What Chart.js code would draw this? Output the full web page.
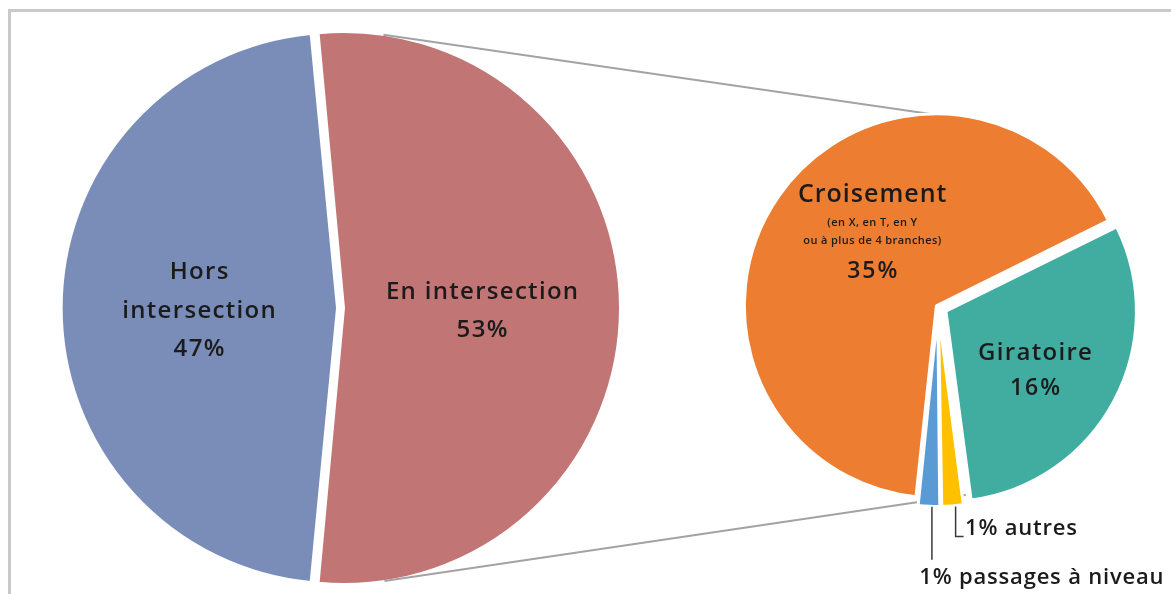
<!DOCTYPE html>
<html>
<head>
<meta charset="utf-8">
<script src="https://cdn.jsdelivr.net/npm/chart.js@4/dist/chart.umd.min.js"></script>
<style>
  html, body { margin: 0; padding: 0; background: #fff; }
  #wrap { position: relative; width: 1171px; height: 594px; overflow: hidden; }
  #frame { position: absolute; left: 8px; top: 9px; width: 1300px; height: 700px;
           border-left: 3px solid #c9c9c9; border-top: 3px solid #c9c9c9; }
  canvas { position: absolute; left: 0; top: 0; }
</style>
</head>
<body>
<div id="wrap">
  <div id="frame"></div>
  <canvas id="mainPie" width="1171" height="594"></canvas>
  <canvas id="detailPie" width="1171" height="594"></canvas>
</div>
<script>
// camembert principal
var mainLabels = [['Hors', 'intersection'], ['En intersection']];
var mainValues = [47, 53];
var mainColors = ['#7a8cb8', '#c27575'];

// détail des accidents en intersection
var detailLabels = ['Croisement', 'Giratoire', 'autres', 'passages à niveau'];
var detailValues = [35, 16, 1, 1];
var detailColors = ['#ed7d31', '#40ada0', '#ffc000', '#5b9bd5'];
var croisementNote = ['(en X, en T, en Y', 'ou à plus de 4 branches)'];

var FONT = '"Open Sans", sans-serif';
var INK = '#1b1b1b';

function say(ctx, text, x, y, size, spacing) {
  ctx.font = '600 ' + size + 'px ' + FONT;
  ctx.letterSpacing = (spacing || 0) + 'px';
  ctx.fillText(text, x + (spacing || 0) / 2, y);
}

// centre réel d'une part décalée (chart.js décale de offset/4)
function shifted(arc) {
  var mid = (arc.startAngle + arc.endAngle) / 2;
  var off = (arc.options.offset || 0) / 4;
  return { x: arc.x + Math.cos(mid) * off, y: arc.y + Math.sin(mid) * off, mid: mid, r: arc.outerRadius + off };
}

var mainText = {
  id: 'mainText',
  afterDatasetsDraw: function(chart) {
    var ctx = chart.ctx;
    ctx.save();
    ctx.fillStyle = INK;
    ctx.textAlign = 'center';
    ctx.textBaseline = 'middle';
    chart.getDatasetMeta(0).data.forEach(function(arc, i) {
      var c = shifted(arc);
      var x = c.x + Math.cos(c.mid) * c.r * 0.5;
      var y = c.y + Math.sin(c.mid) * c.r * 0.5 + 3;
      var lines = mainLabels[i].concat([mainValues[i] + '%']);
      var top = y - (lines.length - 1) * 38.5 / 2;
      lines.forEach(function(t, k) { say(ctx, t, x, top + k * 38.5, 24, 1.3); });
    });
    ctx.restore();
  }
};

var mainChart = new Chart(document.getElementById('mainPie'), {
  type: 'pie',
  data: {
    labels: mainLabels.map(function(l) { return l.join(' '); }),
    datasets: [{
      data: mainValues,
      backgroundColor: mainColors,
      borderColor: '#fff',
      borderWidth: 2,
      offset: 14
    }]
  },
  options: {
    responsive: false,
    animation: false,
    rotation: 185.4,
    radius: 272.5,
    layout: { padding: { top: 22, right: 490 } },
    plugins: { legend: { display: false }, tooltip: { enabled: false } }
  },
  plugins: [mainText]
});

// traits de liaison entre les deux camemberts (tangentes extérieures)
var connectors = {
  id: 'connectors',
  beforeDatasetsDraw: function(chart) {
    var red = shifted(mainChart.getDatasetMeta(0).data[1]);
    var arc = chart.getDatasetMeta(0).data[0];
    var x1 = red.x, y1 = red.y, r1 = red.r;
    var x2 = arc.x, y2 = arc.y, r2 = arc.outerRadius;
    var th = Math.atan2(y2 - y1, x2 - x1);
    var d = Math.hypot(x2 - x1, y2 - y1);
    var a = Math.acos((r1 - r2) / d);
    var ctx = chart.ctx;
    ctx.save();
    ctx.strokeStyle = '#a3a3a3';
    ctx.lineWidth = 2;
    [th - a, th + a].forEach(function(p) {
      ctx.beginPath();
      ctx.moveTo(x1 + Math.cos(p) * r1, y1 + Math.sin(p) * r1);
      ctx.lineTo(x2 + Math.cos(p) * r2, y2 + Math.sin(p) * r2);
      ctx.stroke();
    });
    ctx.restore();
  }
};

var detailText = {
  id: 'detailText',
  afterDatasetsDraw: function(chart) {
    var ctx = chart.ctx;
    var arcs = chart.getDatasetMeta(0).data;
    ctx.save();
    ctx.fillStyle = INK;
    ctx.textAlign = 'center';
    ctx.textBaseline = 'middle';

    // Croisement
    var o = arcs[0];
    var ang = (o.startAngle + o.endAngle) / 2 + 12.6 * Math.PI / 180;
    var cx = o.x + 1 + Math.cos(ang) * o.outerRadius * 0.52;
    var cy = o.y - 1 + Math.sin(ang) * o.outerRadius * 0.52 - 38;
    say(ctx, detailLabels[0], cx, cy, 25, 1);
    say(ctx, croisementNote[0], cx, cy + 28, 11, 0.4);
    say(ctx, croisementNote[1], cx, cy + 46, 11, 0.4);
    say(ctx, detailValues[0] + '%', cx, cy + 76, 23, 2);

    // Giratoire
    var g = arcs[1];
    ang = (g.startAngle + g.endAngle) / 2 + 6 * Math.PI / 180;
    cx = g.x + 1 + Math.cos(ang) * g.outerRadius * 0.61;
    cy = g.y - 1 + Math.sin(ang) * g.outerRadius * 0.61;
    say(ctx, detailLabels[1], cx, cy - 18, 24, 1.3);
    say(ctx, detailValues[1] + '%', cx, cy + 18, 23, 2);

    // petites parts avec lignes de rappel
    ctx.strokeStyle = '#3a3a3a';
    ctx.lineWidth = 1.5;
    var y0 = shifted(arcs[2]);
    var ax = y0.x + Math.cos(y0.mid) * y0.r + 3, ay = y0.y + Math.sin(y0.mid) * y0.r;
    ctx.beginPath();
    ctx.moveTo(ax, ay);
    ctx.lineTo(ax, ay + 30);
    ctx.lineTo(ax + 8, ay + 30);
    ctx.stroke();
    ctx.textAlign = 'left';
    say(ctx, detailValues[2] + '% ' + detailLabels[2], ax + 9, ay + 22, 22, 0.8);

    var b0 = shifted(arcs[3]);
    var bx = b0.x + Math.cos(b0.mid) * b0.r + 3, by = b0.y + Math.sin(b0.mid) * b0.r;
    ctx.beginPath();
    ctx.moveTo(bx, by);
    ctx.lineTo(bx, by + 53);
    ctx.stroke();
    say(ctx, detailValues[3] + '% ' + detailLabels[3], bx - 13, by + 71, 22, 0.8);
    ctx.restore();
  }
};

var detailChart = new Chart(document.getElementById('detailPie'), {
  type: 'pie',
  data: {
    labels: detailLabels,
    datasets: [{
      data: detailValues,
      backgroundColor: detailColors,
      borderColor: '#fff',
      borderWidth: 3,
      offset: [8, 36, 20, 20]
    }]
  },
  options: {
    responsive: false,
    animation: false,
    rotation: 186,
    radius: 190,
    layout: { padding: { left: 705, top: 20 } },
    plugins: { legend: { display: false }, tooltip: { enabled: false } }
  },
  plugins: [connectors, detailText]
});
</script>
</body>
</html>
